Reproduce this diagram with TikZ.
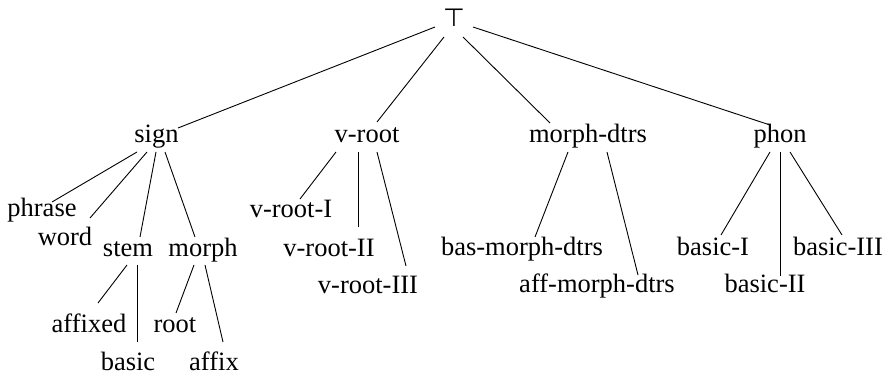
\documentclass[tikz,border=0pt]{standalone}
\usepackage{fontspec}
\setmainfont{Liberation Serif}
\newfontfamily\symfont{DejaVu Sans}
\begin{document}
\begin{tikzpicture}[x=1pt,y=1pt,
  lbl/.style={anchor=base, inner sep=0pt, font=\fontsize{26.5}{30}\selectfont},
  edge/.style={line width=0.9pt, black}]
\useasboundingbox (0,0) rectangle (883,-374);
% nodes
\node[lbl, font=\symfont\fontsize{25}{30}\selectfont] (top) at (454,-27) {⊤};
\node[lbl] (sign) at (156.5,-143) {sign};
\node[lbl] (vroot) at (367,-143) {v-root};
\node[lbl] (mdtrs) at (588,-143) {morph-dtrs};
\node[lbl] (phon) at (780,-143) {phon};
\node[lbl] (phrase) at (42,-217) {phrase};
\node[lbl] (word) at (65,-245) {word};
\node[lbl] (stem) at (128,-256) {stem};
\node[lbl] (morph) at (203,-256) {morph};
\node[lbl] (affixed) at (89,-332) {affixed};
\node[lbl] (root) at (175,-332) {root};
\node[lbl] (basic) at (128,-370) {basic};
\node[lbl] (affix) at (214,-370) {affix};
\node[lbl] (vr1) at (291,-218) {v-root-I};
\node[lbl] (vr2) at (329,-256) {v-root-II};
\node[lbl] (vr3) at (368,-293) {v-root-III};
\node[lbl] (bmd) at (522,-255) {bas-morph-dtrs};
\node[lbl] (amd) at (597,-292) {aff-morph-dtrs};
\node[lbl] (b1) at (713,-255) {basic-I};
\node[lbl] (b2) at (765,-292) {basic-II};
\node[lbl] (b3) at (838,-255) {basic-III};
% edges
\draw[edge] ([shift={(-19,0)}]top.base) -- ([shift={(21.5,15)}]sign.base);
\draw[edge] ([shift={(-10,-10)}]top.base) -- ([shift={(10,21)}]vroot.base);
\draw[edge] ([shift={(9,-10)}]top.base) -- ([shift={(-38,20)}]mdtrs.base);
\draw[edge] ([shift={(19,0)}]top.base) -- ([shift={(-10,18)}]phon.base);
\draw[edge] ([shift={(-19.5,-9)}]sign.base) -- ([shift={(10,15)}]phrase.base);
\draw[edge] ([shift={(-9.5,-9)}]sign.base) -- ([shift={(25,27)}]word.base);
\draw[edge] ([shift={(-0.5,-9)}]sign.base) -- ([shift={(12,19)}]stem.base);
\draw[edge] ([shift={(8.5,-9)}]sign.base) -- ([shift={(-8,19)}]morph.base);
\draw[edge] ([shift={(-1,-9)}]stem.base) -- ([shift={(9,29)}]affixed.base);
\draw[edge] ([shift={(9,-9)}]stem.base) -- ([shift={(9,28)}]basic.base);
\draw[edge] ([shift={(-9,-9)}]morph.base) -- ([shift={(1,19)}]root.base);
\draw[edge] ([shift={(2,-9)}]morph.base) -- ([shift={(9,28)}]affix.base);
\draw[edge] ([shift={(-31,-9)}]vroot.base) -- ([shift={(9,19)}]vr1.base);
\draw[edge] ([shift={(-9,-9)}]vroot.base) -- ([shift={(29,29)}]vr2.base);
\draw[edge] ([shift={(10,-9)}]vroot.base) -- ([shift={(38,27)}]vr3.base);
\draw[edge] ([shift={(-20,-9)}]mdtrs.base) -- ([shift={(13,18)}]bmd.base);
\draw[edge] ([shift={(19,-9)}]mdtrs.base) -- ([shift={(41,17)}]amd.base);
\draw[edge] ([shift={(-10,-9)}]phon.base) -- ([shift={(8,20)}]b1.base);
\draw[edge] ([shift={(0,-9)}]phon.base) -- ([shift={(15,16)}]b2.base);
\draw[edge] ([shift={(10,-9)}]phon.base) -- ([shift={(4,20)}]b3.base);
\end{tikzpicture}
\end{document}
